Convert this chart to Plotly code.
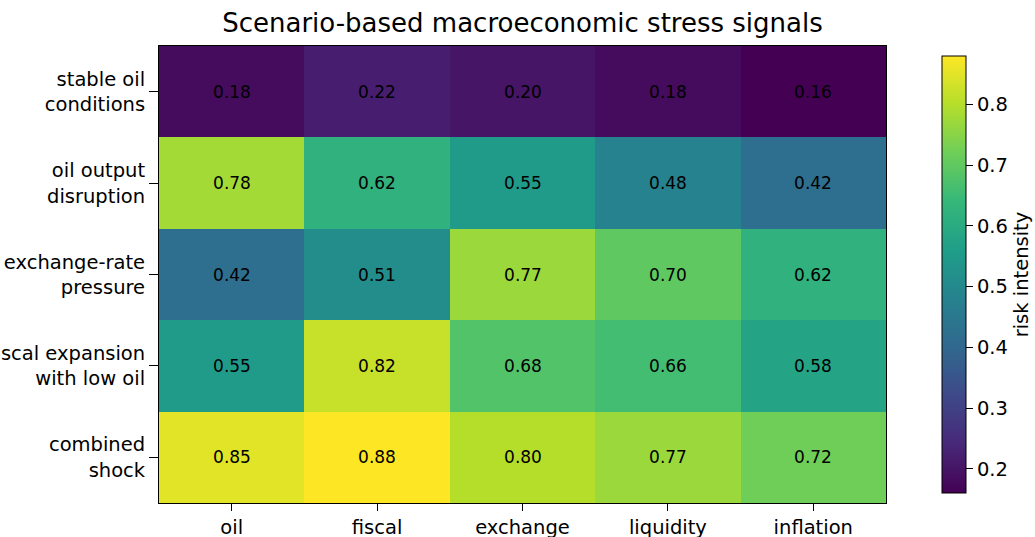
import plotly.graph_objects as go

factors = ["oil", "fiscal", "exchange", "liquidity", "inflation"]
scenarios = [
    "stable oil<br>conditions",
    "oil output<br>disruption",
    "exchange-rate<br>pressure",
    "fiscal expansion<br>with low oil",
    "combined<br>shock",
]
stable_oil = [0.18, 0.22, 0.20, 0.18, 0.16]
oil_disruption = [0.78, 0.62, 0.55, 0.48, 0.42]
fx_pressure = [0.42, 0.51, 0.77, 0.70, 0.62]
fiscal_low_oil = [0.55, 0.82, 0.68, 0.66, 0.58]
combined_shock = [0.85, 0.88, 0.80, 0.77, 0.72]
z = [stable_oil, oil_disruption, fx_pressure, fiscal_low_oil, combined_shock]
flat = [v for row in z for v in row]

W, H = 1035, 537
L, R, T, B = 159, 886, 46, 503
FONT = "DejaVu Sans"

fig = go.Figure(go.Heatmap(
    z=z, x=factors, y=scenarios,
    colorscale="Viridis", zmin=min(flat), zmax=max(flat),
    texttemplate="%{z:.2f}", textfont=dict(color="black", size=17, family=FONT),
    xgap=0, ygap=0,
    colorbar=dict(
        x=(932 - L) / (R - L), xanchor="left", xref="paper",
        y=0, yanchor="bottom", len=1, lenmode="fraction",
        thickness=24, outlinecolor="black", outlinewidth=1,
        tickvals=[0.2, 0.3, 0.4, 0.5, 0.6, 0.7, 0.8],
        ticktext=["0.2", "0.3", "0.4", "0.5", "0.6", "0.7", "0.8"],
        ticks="outside", ticklen=7, tickcolor="black",
        tickfont=dict(size=19.5, family=FONT, color="black"),
        title=dict(text="risk intensity", side="right",
                   font=dict(size=19.5, family=FONT, color="black")),
    ),
    hoverinfo="skip",
))

fig.update_layout(
    width=W, height=H, template="none",
    margin=dict(l=L, r=W - R, t=T, b=H - B, pad=0, autoexpand=False),
    paper_bgcolor="white", plot_bgcolor="white",
    title=dict(text="Scenario-based macroeconomic stress signals", x=0.5, xref="paper",
               xanchor="center", y=1 - 23 / H, yanchor="middle",
               font=dict(size=26, family=FONT, color="black")),
    font=dict(family=FONT, color="black"),
)
fig.update_xaxes(showline=True, linecolor="black", linewidth=1, mirror=True,
                 ticks="outside", ticklen=7, tickcolor="black", showgrid=False,
                 tickfont=dict(size=19.5), automargin=False, zeroline=False)
fig.update_yaxes(showline=True, linecolor="black", linewidth=1, mirror=True,
                 ticks="outside", ticklen=9, tickcolor="black", showgrid=False,
                 tickfont=dict(size=19.5), automargin=False, autorange="reversed",
                 zeroline=False)

fig.write_html("out.html", config={"displayModeBar": False, "staticPlot": True},
               post_script="document.body.style.margin='0';document.body.style.overflow='hidden';")
